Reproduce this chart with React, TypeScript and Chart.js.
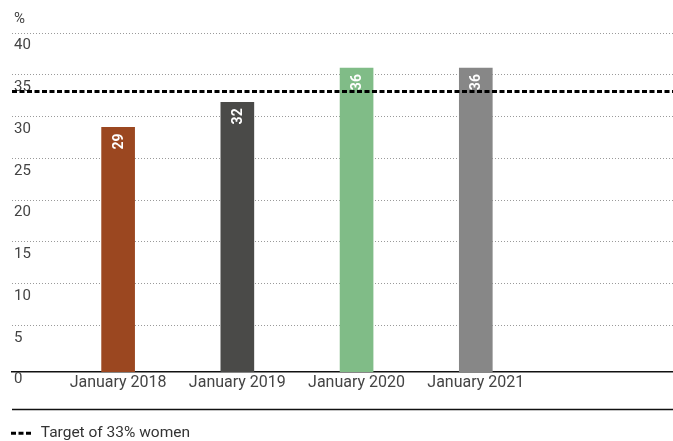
import React, { useEffect, useRef } from 'react';
import { Chart, registerables } from 'chart.js';

Chart.register(...registerables);

// ---- data ----
const categories: string[] = ['January 2018', 'January 2019', 'January 2020', 'January 2021'];
const shareOfWomen: number[] = [28.7, 31.7, 35.8, 35.8];
const valueLabels: string[] = ['29', '32', '36', '36'];
const barColors: string[] = ['#9B4720', '#4A4A48', '#80BC87', '#878787'];
const targetValue = 33;
const targetLabel = 'Target of 33% women';
const yUnit = '%';
const yTickValues: number[] = [0, 5, 10, 15, 20, 25, 30, 35, 40];

// scale bounds (category index units / percent)
const X_MIN = -0.89;
const X_MAX = 4.654;
const Y_MIN = -0.6;
const Y_MAX = 40;

const FONT = 'Roboto, "Liberation Sans", sans-serif';

const barLabelPlugin = {
  id: 'barLabels',
  afterDatasetsDraw(chart: any) {
    const idx = chart.data.datasets.findIndex((d: any) => d.type === 'bar');
    const meta = chart.getDatasetMeta(idx);
    const ctx = chart.ctx;
    ctx.save();
    ctx.fillStyle = '#ffffff';
    ctx.font = `bold 14px ${FONT}`;
    ctx.textAlign = 'right';
    ctx.textBaseline = 'middle';
    meta.data.forEach((bar: any, i: number) => {
      ctx.save();
      ctx.translate(bar.x, bar.y + 6);
      ctx.rotate(-Math.PI / 2);
      ctx.fillText(valueLabels[i], 0, 1);
      ctx.restore();
    });
    ctx.restore();
  },
};

const decorPlugin = {
  id: 'decor',
  afterDraw(chart: any) {
    const ctx = chart.ctx;
    const area = chart.chartArea;
    ctx.save();
    ctx.fillStyle = '#444';
    ctx.font = `15px ${FONT}`;
    ctx.textAlign = 'left';
    ctx.textBaseline = 'middle';
    ctx.fillText(yUnit, area.left + 2, 19);
    ctx.strokeStyle = '#111';
    ctx.lineWidth = 1.5;
    ctx.beginPath();
    const y = chart.legend.top - 13;
    ctx.moveTo(area.left, y);
    ctx.lineTo(area.right, y);
    ctx.stroke();
    ctx.restore();
  },
};

export default function App() {
  const ref = useRef<HTMLCanvasElement | null>(null);

  useEffect(() => {
    if (!ref.current) return;
    const chart = new Chart(ref.current, {
      type: 'bar',
      data: {
        datasets: [
          {
            type: 'line',
            label: targetLabel,
            data: [
              { x: X_MIN, y: targetValue },
              { x: X_MAX, y: targetValue },
            ],
            borderColor: '#000',
            borderWidth: 3,
            borderDash: [5, 2.5],
            pointRadius: 0,
            order: 0,
          } as any,
          {
            type: 'bar',
            label: 'Share of women',
            data: categories.map((c, i) => ({ x: i, y: shareOfWomen[i] })),
            backgroundColor: barColors,
            barThickness: 33,
            base: Y_MIN,
            order: 1,
          } as any,
        ],
      },
      options: {
        animation: false,
        responsive: true,
        maintainAspectRatio: false,
        layout: { padding: { left: 8, right: 0, top: 33, bottom: -10 } },
        font: { family: FONT },
        scales: {
          x: {
            type: 'linear',
            offset: false,
            min: X_MIN,
            max: X_MAX,
            grid: { display: false, drawTicks: false, offset: false },
            border: { display: true, color: '#111', width: 1.5 },
            title: { display: true, text: ' ', font: { size: 16 }, padding: { top: 3, bottom: 7 } },
            ticks: {
              stepSize: 1,
              includeBounds: false,
              autoSkip: false,
              maxRotation: 0,
              padding: 1,
              color: '#444',
              font: { size: 16, family: FONT },
              callback: (v: any) => (Number.isInteger(v) && categories[v] ? categories[v] : ''),
            },
          },
          y: {
            type: 'linear',
            min: Y_MIN,
            max: Y_MAX,
            afterBuildTicks: (scale: any) => {
              scale.ticks = yTickValues.map((v) => ({ value: v }));
            },
            grid: {
              drawTicks: false,
              color: (c: any) => (c.tick && c.tick.value > 0 ? '#9a9a9a' : 'rgba(0,0,0,0)'),
              lineWidth: 1,
            },
            border: { display: false, dash: [1, 2] },
            ticks: {
              mirror: true,
              padding: 2,
              labelOffset: 12.5,
              color: '#444',
              font: { size: 15, family: FONT },
            },
          },
        },
        plugins: {
          legend: {
            position: 'bottom',
            align: 'start',
            labels: {
              filter: (item: any) => item.datasetIndex === 0,
              generateLabels: (chart: any) =>
                Chart.defaults.plugins.legend.labels
                  .generateLabels(chart)
                  .map((it: any) => ({
                    ...it,
                    lineDash: chart.data.datasets[it.datasetIndex].borderDash,
                  })),
              usePointStyle: true,
              pointStyle: 'line',
              pointStyleWidth: 22,
              padding: 3,
              color: '#333',
              font: { size: 15.5, family: FONT },
            },
          },
          tooltip: { enabled: false },
        },
      },
      plugins: [barLabelPlugin, decorPlugin],
    } as any);
    return () => chart.destroy();
  }, []);

  return (
    <div style={{ position: 'absolute', left: 0, top: 0, width: 673, height: 441 }}>
      <canvas ref={ref} />
    </div>
  );
}
